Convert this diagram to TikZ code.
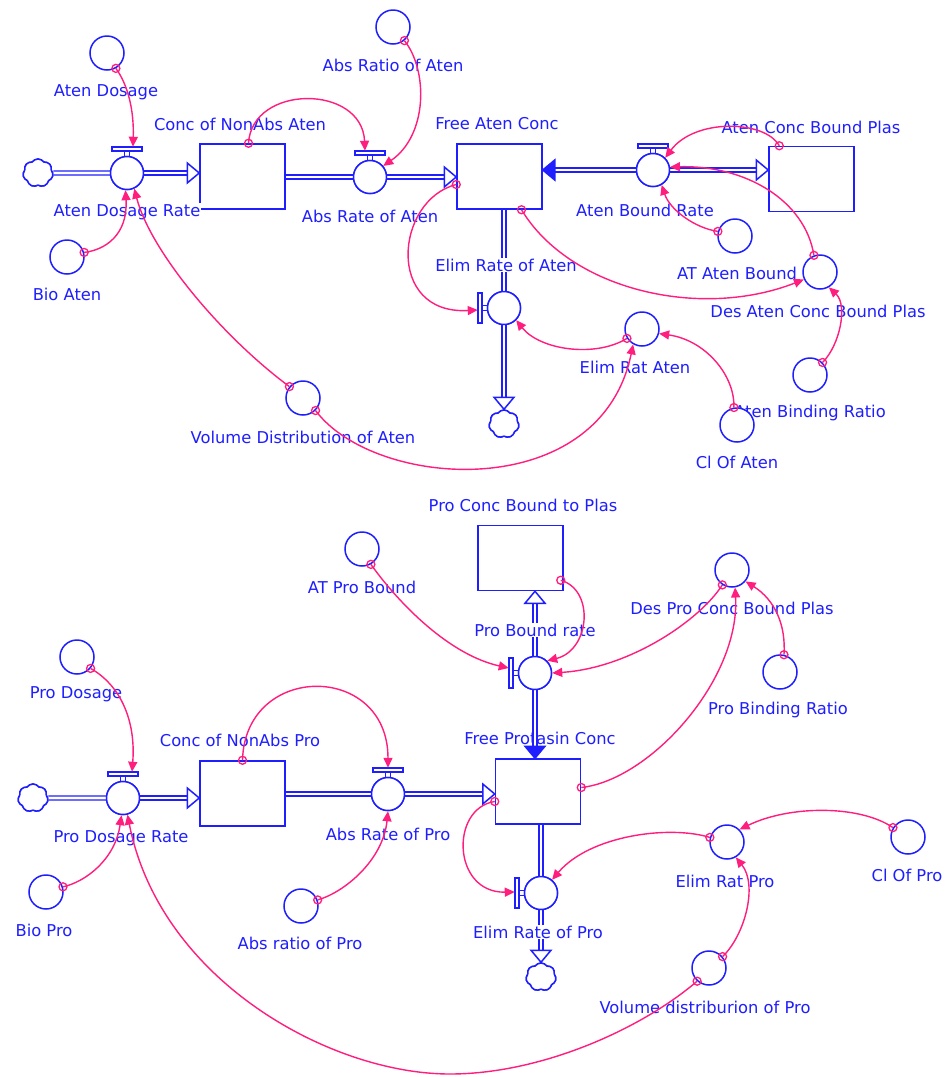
\documentclass[tikz,border=0pt]{standalone}
\usepackage{fontspec}
\newfontfamily\labfont{DejaVu Sans}
\usetikzlibrary{calc,shapes.symbols,arrows.meta}
\definecolor{sblue}{RGB}{30,30,255}
\definecolor{spink}{RGB}{255,30,125}
\tikzset{
  flowline/.style={draw=sblue, line width=1.5pt},
  pipe/.style={draw=sblue, line width=1.4pt, double=white, double distance=2.6pt},
  stock/.style={rectangle, draw=sblue, line width=1.5pt, fill=white, minimum width=85pt, minimum height=65pt, inner sep=0pt},
  aux/.style={circle, draw=sblue, line width=1.5pt, fill=white, minimum size=34pt, inner sep=0pt},
  valve/.style={circle, draw=sblue, line width=1.5pt, fill=white, minimum size=33pt, inner sep=0pt},
  source/.style={cloud, cloud puffs=7, cloud puff arc=110, aspect=1, draw=sblue, line width=1.5pt, fill=white, minimum width=30pt, minimum height=28pt, inner sep=0pt},
  lab/.style={text=sblue, font={\labfont\fontsize{16.3}{19}\selectfont}, inner sep=1pt},
  flab/.style={lab, fill=white},
  link/.style={draw=spink, line width=1.4pt, -{Triangle[length=10pt,width=9pt]}},
  tail/.style={draw=spink, line width=1.3pt},
}
% open and filled flow heads: #1 tip point, #2 direction angle
\newcommand\openhead[2]{\draw[flowline, fill=white, shift={(#1)}, rotate=#2] (0,0) -- (-12,10) -- (-12,-10) -- cycle;}
\newcommand\solidhead[2]{\draw[flowline, fill=sblue, shift={(#1)}, rotate=#2] (0,0) -- (-12,10) -- (-12,-10) -- cycle;}
% valve handles: on top for horizontal pipes, on the left for vertical ones
\newcommand\tbarh[1]{%
  \draw[flowline] ($(#1.north)+(-2.5,0)$) -- ($(#1.north)+(-2.5,-5)$) ($(#1.north)+(2.5,0)$) -- ($(#1.north)+(2.5,-5)$);
  \draw[flowline, fill=white] ($(#1.north)+(-15,-5)$) rectangle ($(#1.north)+(15,-9)$);}
\newcommand\tbarv[1]{%
  \draw[flowline] ($(#1.west)+(0,-2.5)$) -- ($(#1.west)+(-5,-2.5)$) ($(#1.west)+(0,2.5)$) -- ($(#1.west)+(-5,2.5)$);
  \draw[flowline, fill=white] ($(#1.west)+(-5,-15)$) rectangle ($(#1.west)+(-9,15)$);}
% information link with its source ring
\newcommand\linkc[4]{\draw[link] (#1) .. controls (#2) and (#3) .. (#4); \draw[tail] (#1) circle[radius=4pt];}
\begin{document}
\begin{tikzpicture}[x=1pt,y=-1pt]
\fill[white] (0,0) rectangle (950,1077);
\useasboundingbox (0,0) rectangle (950,1077);

% ---------- stock and auxiliary labels ----------
\node[lab] (lNA) at (240,124) {Conc of NonAbs Aten};
\node[lab] (lFA) at (497,124) {Free Aten Conc};
\node[lab] (lAB) at (811,127) {Aten Conc Bound Plas};
\node[lab] (lAD) at (106,92) {Aten Dosage};
\node[lab] (lBio) at (67,294) {Bio Aten};
\node[lab] (lAbsR) at (393,65) {Abs Ratio of Aten};
\node[lab] (lATA) at (737,273) {AT Aten Bound};
\node[lab] (lDes) at (818,311) {Des Aten Conc Bound Plas};
\node[lab] (lElim) at (635,367) {Elim Rat Aten};
\node[lab] (lBind) at (810,413) {Aten Binding Ratio};
\node[lab] (lVol) at (303,437) {Volume Distribution of Aten};
\node[lab] (lCl) at (737,462) {Cl Of Aten};

\node[lab] (lNP) at (240,740) {Conc of NonAbs Pro};
\node[lab] (lFP) at (540,738) {Free Protasin Conc};
\node[lab] (lPB) at (523,505) {Pro Conc Bound to Plas};
\node[lab] (lPD) at (76,694) {Pro Dosage};
\node[lab] (lBP) at (44,930) {Bio Pro};
\node[lab] (lAbsP) at (300,943) {Abs ratio of Pro};
\node[lab] (lATP) at (362,587) {AT Pro Bound};
\node[lab] (lDesP) at (732,608) {Des Pro Conc Bound Plas};
\node[lab] (lBindP) at (778,710) {Pro Binding Ratio};
\node[lab] (lElimP) at (725,881) {Elim Rat Pro};
\node[lab] (lClP) at (907,875) {Cl Of Pro};
\node[lab] (lVolP) at (705,1007) {Volume distriburion of Pro};

% ---------- placement of valves, clouds, stocks (drawn later) ----------
\path (127,173) node[valve] (vAD) {}
      (370,177) node[valve] (vAR) {}
      (653,170) node[valve] (vAB) {}
      (504,308) node[valve] (vEA) {}
      (38,173) node[source] (cA) {}
      (504,424) node[source] (cAE) {}
      (242.5,176.5) node[stock] (sNA) {}
      (499.5,176.5) node[stock] (sFA) {}
      (811.5,179) node[stock] (sAB) {};
\path (123,798) node[valve] (vPD) {}
      (388,794) node[valve] (vPR) {}
      (535,673) node[valve] (vPB) {}
      (541,893) node[valve] (vEP) {}
      (33,798) node[source] (cP) {}
      (541,977) node[source] (cPE) {}
      (242.5,793.5) node[stock] (sNP) {}
      (538,791.5) node[stock] (sFP) {}
      (520.5,558) node[stock] (sPB) {};

% ---------- pipes ----------
\draw[pipe] (cA) -- (vAD);
\draw[pipe] (vAD.east) -- ($(sNA.west |- vAD.east)+(-11,0)$);
\openhead{sNA.west |- vAD.east}{0}
\draw[pipe] (sNA.east |- vAR.west) -- (vAR.west);
\draw[pipe] (vAR.east) -- ($(sFA.west |- vAR.east)+(-11,0)$);
\openhead{sFA.west |- vAR.east}{0}
\draw[pipe] (vAB.west) -- ($(sFA.east |- vAB.west)+(11,0)$);
\solidhead{sFA.east |- vAB.west}{180}
\draw[pipe] (vAB.east) -- ($(sAB.west |- vAB.east)+(-11,0)$);
\openhead{sAB.west |- vAB.east}{0}
\draw[pipe] (sFA.south -| vEA.north) -- (vEA.north);
\draw[pipe] (vEA.south) -- ($(cAE.north)+(0,-11)$);
\openhead{cAE.north}{270}

\draw[pipe] (cP) -- (vPD);
\draw[pipe] (vPD.east) -- ($(sNP.west |- vPD.east)+(-11,0)$);
\openhead{sNP.west |- vPD.east}{0}
\draw[pipe] (sNP.east |- vPR.west) -- (vPR.west);
\draw[pipe] (vPR.east) -- ($(sFP.west |- vPR.east)+(-11,0)$);
\openhead{sFP.west |- vPR.east}{0}
\draw[pipe] (vPB.north) -- ($(sPB.south -| vPB.north)+(0,11)$);
\openhead{sPB.south -| vPB.north}{90}
\draw[pipe] (vPB.south) -- ($(sFP.north -| vPB.south)+(0,-11)$);
\solidhead{sFP.north -| vPB.south}{270}
\draw[pipe] (sFP.south -| vEP.north) -- (vEP.north);
\draw[pipe] (vEP.south) -- ($(cPE.north)+(0,-11)$);
\openhead{cPE.north}{270}

% ---------- stocks ----------
\node[stock] at (sNA) {};
\node[stock] at (sFA) {};
\node[stock] at (sAB) {};
\node[stock] at (sNP) {};
\node[stock] at (sFP) {};
\node[stock] at (sPB) {};

% ---------- flow labels ----------
\node[flab] (lvAD) at (127,212) {Aten Dosage Rate};
\node[flab] (lvAR) at (370,216) {Abs Rate of Aten};
\node[flab] (lvAB) at (645,210) {Aten Bound Rate};
\node[flab] (lvEA) at (506,265) {Elim Rate of Aten};
\node[flab] (lvPD) at (121,838) {Pro Dosage Rate};
\node[flab] (lvPR) at (388,834) {Abs Rate of Pro};
\node[flab] (lvPB) at (535,630) {Pro Bound rate};
\node[flab] (lvEP) at (538,932) {Elim Rate of Pro};

% ---------- valves and clouds ----------
\node[valve] at (vAD) {}; \tbarh{vAD}
\node[valve] at (vAR) {}; \tbarh{vAR}
\node[valve] at (vAB) {}; \tbarh{vAB}
\node[valve] at (vEA) {}; \tbarv{vEA}
\node[valve] at (vPD) {}; \tbarh{vPD}
\node[valve] at (vPR) {}; \tbarh{vPR}
\node[valve] at (vPB) {}; \tbarv{vPB}
\node[valve] at (vEP) {}; \tbarv{vEP}
\node[source] at (cA) {};
\node[source] at (cAE) {};
\node[source] at (cP) {};
\node[source] at (cPE) {};

% ---------- auxiliaries ----------
\node[aux] (aAD) at (107,53) {};
\node[aux] (aBio) at (67,257) {};
\node[aux] (aAbsR) at (393,27) {};
\node[aux] (aATA) at (735,236) {};
\node[aux] (aDes) at (820,272) {};
\node[aux] (aBind) at (810,375) {};
\node[aux] (aCl) at (737,425) {};
\node[aux] (aElim) at (642,329) {};
\node[aux] (aVol) at (303,398) {};

\node[aux] (aPD) at (77,657) {};
\node[aux] (aBP) at (46,892) {};
\node[aux] (aAbsP) at (301,906) {};
\node[aux] (aATP) at (362,549) {};
\node[aux] (aDesP) at (732,570) {};
\node[aux] (aBindP) at (780,672) {};
\node[aux] (aElimP) at (727,842) {};
\node[aux] (aClP) at (908,837) {};
\node[aux] (aVolP) at (709,968) {};

% ---------- information links ----------
\linkc{aAD.300}{128,85}{134,110}{$(vAD.north)+(6,-9)$}
\linkc{aBio.15}{105,250}{128,235}{vAD.265}
\linkc{aVol.140}{220,335}{150,250}{vAD.295}
\linkc{$(sNA.north)+(6,0)$}{252,84}{362,84}{$(vAR.north)+(-5,-9)$}
\linkc{aAbsR.310}{428,70}{428,135}{vAR.40}
\linkc{$(sFA.west)+(0,8)$}{395,200}{385,315}{$(vEA.west)+(-9,2)$}
\linkc{$(sFA.south)+(22,0)$}{570,290}{700,320}{aDes.205}
\linkc{$(sAB.north west)+(11,0)$}{765,120}{695,118}{vAB.45}
\linkc{aDes.110}{805,200}{745,165}{vAB.10}
\linkc{aATA.165}{695,228}{670,210}{vAB.300}
\linkc{aBind.45}{840,345}{848,305}{aDes.300}
\linkc{aElim.212}{595,358}{540,350}{vEA.315}
\linkc{aCl.100}{735,375}{705,340}{aElim.345}
\linkc{aVol.315}{375,490}{600,505}{aElim.240}

\linkc{aPD.320}{120,685}{136,720}{$(vPD.north)+(9,-9)$}
\linkc{aBP.17}{85,882}{115,860}{vPD.265}
\linkc{sNP.north}{245,662}{388,662}{$(vPR.north)+(0,-9)$}
\linkc{aAbsP.20}{345,892}{383,860}{vPR.270}
\draw[link] (aVolP.228) .. controls (640,1030) and (540,1074) .. (450,1074)
            .. controls (330,1074) and (160,980) .. (vPD.285);
\draw[tail] (aVolP.228) circle[radius=4pt];
\linkc{$(sFP.west)+(0,10)$}{450,808}{452,893}{$(vEP.west)+(-9,-1)$}
\linkc{$(sFP.east)+(0,-4)$}{650,780}{740,680}{aDesP.280}
\linkc{$(sPB.south east)+(-3,-11)$}{595,590}{590,650}{vPB.45}
\linkc{aDesP.237}{700,620}{630,668}{vPB.east}
\linkc{aBindP.77}{786,625}{775,600}{aDesP.320}
\linkc{aATP.300}{400,605}{450,655}{$(vPB.west)+(-9,-5)$}
\linkc{aElimP.165}{670,825}{590,835}{vEP.50}
\linkc{aClP.148}{860,805}{790,805}{aElimP.45}
\linkc{aVolP.40}{745,935}{758,885}{aElimP.300}
\end{tikzpicture}
\end{document}
